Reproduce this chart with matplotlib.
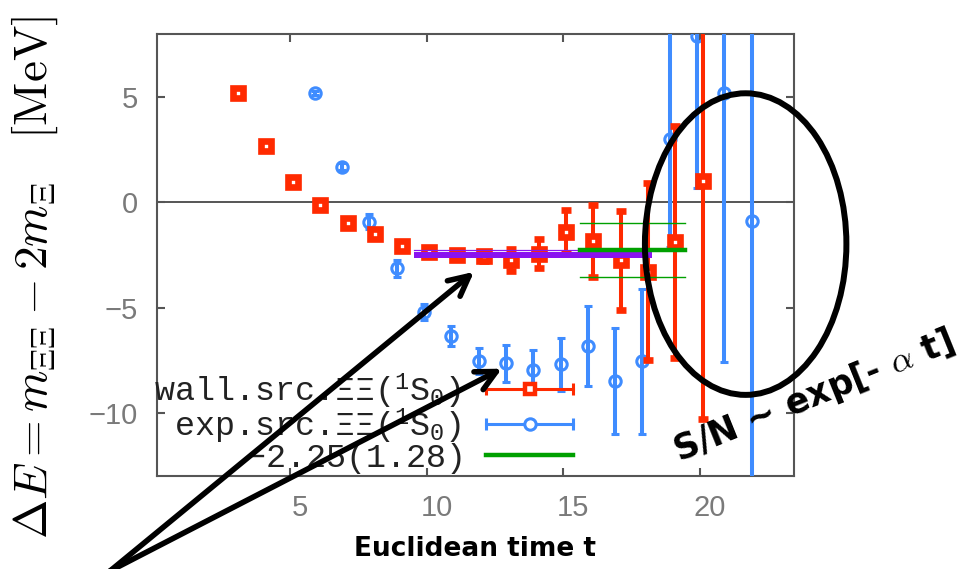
import matplotlib
matplotlib.use('Agg')
import matplotlib.pyplot as plt
import matplotlib.transforms as mtransforms
from matplotlib.lines import Line2D
from matplotlib.patches import Ellipse
from matplotlib.legend_handler import HandlerLine2D, HandlerTuple
import numpy as np

plt.rcParams['mathtext.rm'] = 'Liberation Mono'
plt.rcParams['mathtext.it'] = 'Liberation Serif:italic'

# wall source, Xi-Xi (1S0)
wall_t = [3, 4, 5, 6, 7, 8, 9, 10, 11, 12, 13, 14, 15, 16, 17, 18, 19, 20]
wall_dE = [5.19, 2.68, 0.98, -0.13, -0.97, -1.52, -2.05, -2.36, -2.48, -2.56,
           -2.75, -2.43, -1.40, -1.83, -2.75, -3.30, -1.87, 1.03]
wall_err = [0.08, 0.08, 0.08, 0.08, 0.10, 0.10, 0.12, 0.15, 0.18, 0.22,
            0.53, 0.70, 1.02, 1.72, 2.35, 4.20, 5.50, 11.3]

# exponential source, Xi-Xi (1S0)
exp_t = [6, 7, 8, 9, 10, 11, 12, 13, 14, 15, 16, 17, 18, 19, 20, 21, 22]
exp_dE = [5.19, 1.70, -0.91, -3.14, -5.22, -6.35, -7.54, -7.64, -7.94, -7.70,
          -6.84, -8.49, -7.55, 3.00, 7.92, 5.22, -0.87]
exp_err = [0.10, 0.15, 0.35, 0.40, 0.38, 0.48, 0.60, 0.87, 0.93, 1.25,
           1.90, 2.50, 3.45, 5.10, 7.25, 12.8, 14.0]

# plateau of the wall source data
plateau_range = [9.55, 18.25]
plateau_band = [-2.62, -2.35]
plateau_edge = -2.28

# constant fit
fit_range = [15.6, 19.45]
fit_val = -2.25
fit_err = 1.28

xticks = [5, 10, 15, 20]
yticks = [-10, -5, 0, 5]

red = '#ff2a00'
blue = '#3f8cff'
green = '#00a000'
purple = '#8a12f0'
frame = '#555555'

fig = plt.figure(figsize=(9.61, 5.69), dpi=100)
ax = fig.add_axes([0.1634, 0.1634, 0.6628, 0.7768])

ax.set_xlim(0.12, 23.45)
ax.set_ylim(-13, 8)
ax.axhline(0, color=frame, lw=1.4, zorder=1)

shift = 0.1
ax.errorbar(np.array(exp_t) - shift, exp_dE, yerr=exp_err, fmt='o',
            color=blue, ms=8.2, mfc='none', mew=2.2, elinewidth=2.9,
            capsize=3, capthick=2.9, zorder=3)
ax.errorbar(np.array(wall_t) + shift, wall_dE, yerr=wall_err, fmt='s',
            color=red, ms=6.8, mfc='white', mew=4.8, elinewidth=2.9,
            capsize=3.3, capthick=2.9, zorder=4)

ax.fill_between(plateau_range, plateau_band[0], plateau_band[1],
                color=purple, lw=0, zorder=5)
ax.plot(plateau_range, [plateau_edge] * 2, color=purple, lw=0.9, zorder=5)

ax.plot(fit_range, [fit_val] * 2, color=green, lw=3.2, zorder=6)
ax.plot(fit_range, [fit_val + fit_err] * 2, color=green, lw=1.0, zorder=6)
ax.plot(fit_range, [fit_val - fit_err] * 2, color=green, lw=1.0, zorder=6)

ax.set_xticks(xticks)
ax.set_yticks(yticks)
ax.tick_params(direction='in', length=6, width=1.5, color=frame,
               top=True, right=True, labelsize=21, labelcolor='#7a7a7a')
ax.tick_params(axis='x', pad=13)
ax.tick_params(axis='y', pad=14)
nudge = mtransforms.ScaledTranslation(0.1, 0, fig.dpi_scale_trans)
for lab in ax.get_xticklabels():
    lab.set_family('Liberation Sans')
    lab.set_transform(lab.get_transform() + nudge)
for lab in ax.get_yticklabels():
    lab.set_family('Liberation Sans')
for sp in ax.spines.values():
    sp.set_color(frame)
    sp.set_linewidth(1.5)

# legend: text on the left, horizontal error bar samples on the right
red_bar = Line2D([], [], color=red, lw=2.2, marker='|', ms=8, mew=2.2)
red_pt = Line2D([], [], ls='none', marker='s', ms=6.5, mfc='white', mec=red, mew=3.2)
blue_bar = Line2D([], [], color=blue, lw=2.2, marker='|', ms=8, mew=2.2)
blue_pt = Line2D([], [], ls='none', marker='o', ms=8.2, mfc='white', mec=blue, mew=2.2)
green_line = Line2D([], [], color=green, lw=3.2)

hmap = {red_bar: HandlerLine2D(numpoints=2, marker_pad=0),
        blue_bar: HandlerLine2D(numpoints=2, marker_pad=0),
        red_pt: HandlerLine2D(numpoints=1),
        blue_pt: HandlerLine2D(numpoints=1),
        tuple: HandlerTuple(ndivide=1, pad=0)}

leg = ax.legend([(red_bar, red_pt), (blue_bar, blue_pt), green_line],
                [r'wall.src.$\Xi\Xi$($^1$S$_0$)',
                 r'exp.src.$\Xi\Xi$($^1$S$_0$)',
                 r'$-$2.25(1.28)'],
                handler_map=hmap, markerfirst=False, frameon=False,
                loc='lower right', bbox_to_anchor=(0.653, 0.0),
                borderpad=0, borderaxespad=0, handlelength=2.6,
                handletextpad=0.75, labelspacing=-0.12,
                prop={'family': 'Liberation Mono', 'size': 24},
                labelcolor='#222222')
for txt in leg.get_texts():
    txt.set_math_fontfamily('custom')

# region where signal/noise is lost
ell = Ellipse((21.68, -1.98), 7.38, 14.33, fill=False, ec='black', lw=4.3,
              clip_on=False, zorder=8)
ax.add_patch(ell)

for tip in [(11.73, -3.30), (12.75, -7.90)]:
    ax.annotate('', xy=tip, xycoords='data', xytext=(110, -2),
                textcoords='figure pixels', annotation_clip=False,
                arrowprops=dict(arrowstyle='->', lw=4.0, color='black',
                                mutation_scale=36, shrinkA=0, shrinkB=0),
                zorder=9)

fig.text(814 / 961, 1 - 396 / 569, r'S/N ~ exp[- $\alpha$ t]', fontsize=25,
         fontweight='bold', rotation=22, ha='center', va='center',
         family='DejaVu Sans', math_fontfamily='cm')

fig.text(475 / 961, 1 - 549 / 569, 'Euclidean time t', fontsize=19,
         fontweight='bold', ha='center', va='center', family='DejaVu Sans')
fig.text(35 / 961, 1 - 278 / 569,
         r'$\Delta E = m_{\Xi\Xi} - 2m_{\Xi}\quad[\mathrm{MeV}]$', fontsize=34,
         rotation=90, ha='center', va='center', math_fontfamily='cm')

fig.savefig('out.png', dpi=100)
